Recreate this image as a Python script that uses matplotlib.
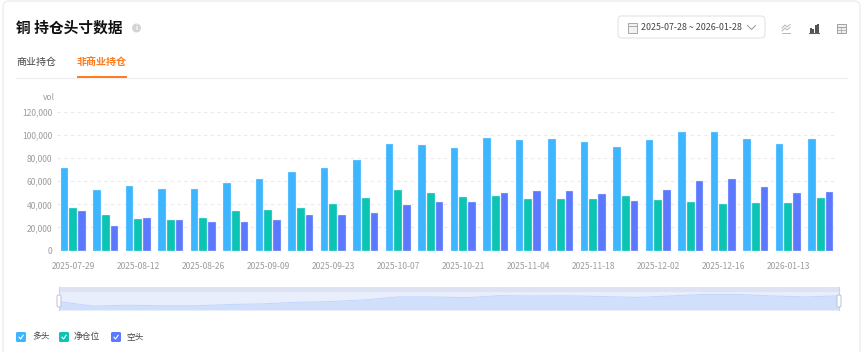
import matplotlib
matplotlib.use('Agg')
import matplotlib.pyplot as plt
from matplotlib.patches import FancyBboxPatch, Rectangle, Circle
import numpy as np

plt.rcParams['font.family'] = ['Noto Sans CJK SC', 'DejaVu Sans']

# Data
dates = ['2025-07-29', '2025-08-05', '2025-08-12', '2025-08-19', '2025-08-26', '2025-09-02',
         '2025-09-09', '2025-09-16', '2025-09-23', '2025-09-30', '2025-10-07', '2025-10-14',
         '2025-10-21', '2025-10-28', '2025-11-04', '2025-11-11', '2025-11-18', '2025-11-25',
         '2025-12-02', '2025-12-09', '2025-12-16', '2025-12-23', '2026-01-13', '2026-01-20']
long_pos = [71600, 52000, 55700, 53400, 53400, 58600, 61800, 68400, 71600, 78800, 92000, 91800,
            88600, 97500, 95800, 96700, 93800, 89800, 95800, 102700, 102700, 96400, 92000, 97000]
net_pos = [37200, 30900, 27400, 26800, 28300, 33800, 35200, 37200, 40700, 45600, 52800, 49400,
           46500, 47000, 44200, 45000, 44700, 47000, 43600, 42100, 40400, 41000, 41300, 45600]
short_pos = [34000, 20800, 28300, 26500, 25100, 24800, 26800, 30600, 30900, 32900, 39000, 42100,
             41800, 50200, 51700, 51700, 48800, 42700, 52200, 60600, 62000, 55100, 50200, 51100]
y_ticks = [0, 20000, 40000, 60000, 80000, 100000, 120000]
legend_names = ['多头', '净仓位', '空头']
colors = ['#3DB5FF', '#0CC4B4', '#5B78FF']

W, H = 865, 352
fig = plt.figure(figsize=(W / 100, H / 100), dpi=100, facecolor='white')


def px_axes(left, top, right, bottom, **kw):
    return fig.add_axes([left / W, 1 - bottom / H, (right - left) / W, (bottom - top) / H], **kw)


# Page layer in pixel coordinates, for the card, header and legend
bg = px_axes(0, 0, W, H)
bg.set_xlim(0, W)
bg.set_ylim(H, 0)
bg.axis('off')
bg.set_zorder(5)
bg.add_patch(FancyBboxPatch((3, 1), 857, 360, boxstyle='round,pad=0,rounding_size=6',
                            fc='none', ec='#ECECF3', lw=1))

bg.text(16, 28, '铜 持仓头寸数据', fontsize=10.6, fontweight='bold', color='#111111', va='center')
bg.add_patch(Circle((136.5, 28), 4.5, fc='#D4D4D4', ec='none'))
bg.text(136.5, 28, 'i', fontsize=5, color='white', ha='center', va='center', fontweight='bold')

bg.text(16, 62, '商业持仓', fontsize=7.2, color='#444444', va='center')
bg.text(77, 62, '非商业持仓', fontsize=7.2, color='#FF7A1A', va='center', fontweight='bold')
bg.plot([16, 847], [78, 78], color='#EFEFF3', lw=0.9)
bg.plot([77, 127], [77, 77], color='#FF7A1A', lw=1.4, solid_capstyle='butt')

# Date picker
bg.add_patch(FancyBboxPatch((618, 16), 147, 22, boxstyle='round,pad=0,rounding_size=4',
                            fc='white', ec='#E6E6EC', lw=0.9))
bg.add_patch(Rectangle((628, 23), 8.5, 9.5, fc='#F2F2F2', ec='#A8A8A8', lw=0.7))
bg.plot([628, 636.5], [26, 26], color='#A8A8A8', lw=0.7)
bg.text(641, 28, '2025-07-28 ~ 2026-01-28', fontsize=6.4, color='#444444', va='center')
bg.plot([747.5, 751.5, 755.5], [25.5, 29.5, 25.5], color='#999999', lw=0.7)

# Toolbar icons
bg.plot([782, 785, 787, 790], [28, 25, 27, 24.5], color='#B5B5B5', lw=0.7)
bg.plot([782, 785, 787, 790], [31, 28, 30, 27.5], color='#B5B5B5', lw=0.7)
bg.plot([782, 790], [32.5, 32.5], color='#B5B5B5', lw=0.7)
for bx, bh in zip([809.5, 812, 814.5, 816.5], [5, 4, 8, 9]):
    bg.add_patch(Rectangle((bx, 32.5 - bh), 2.1, bh, fc='#555555', ec='none'))
bg.plot([809, 818.5], [32.5, 32.5], color='#666666', lw=0.8)
bg.add_patch(Rectangle((837, 24), 8.5, 8.5, fc='#EFEFEF', ec='#A0A0A0', lw=0.7))
bg.plot([837, 845.5], [26.5, 26.5], color='#A0A0A0', lw=0.7)
bg.plot([837, 845.5], [29.5, 29.5], color='#A0A0A0', lw=0.5)
bg.plot([841, 841], [26.5, 32.5], color='#A0A0A0', lw=0.5)

# Main chart
ax = px_axes(57, 112, 837, 250.5)
ax.patch.set_alpha(0)
x = np.arange(len(dates))
bar_w = 0.24
step = 0.268
for i, vals in enumerate([long_pos, net_pos, short_pos]):
    ax.bar(x + (i - 1) * step, vals, bar_w, color=colors[i], edgecolor='#D8EEFF', linewidth=0.25, zorder=3)
ax.set_xlim(-0.5, len(dates) - 0.5)
ax.set_ylim(0, 120000)
ax.set_yticks(y_ticks)
ax.set_yticklabels([f'{v:,}' for v in y_ticks])
ax.set_xticks(x[::2])
ax.set_xticklabels(dates[::2])
ax.tick_params(axis='both', length=0, labelsize=6.1, labelcolor='#9C9C9C')
ax.tick_params(axis='x', pad=8.5)
ax.tick_params(axis='y', pad=3.5)
ax.yaxis.grid(True, color='#EBEBEB', lw=0.8, linestyle=(0, (3, 3)), zorder=0)
ax.set_axisbelow(True)
for s in ax.spines.values():
    s.set_visible(False)
bg.text(55, 98, 'vol', fontsize=6.1, color='#9C9C9C', ha='right', va='center')

# Range slider
sl = px_axes(59, 287, 839, 310)
sl.set_xlim(0, len(dates) - 1)
sl.set_ylim(35000, 135000)
sl.axis('off')
sl.add_patch(Rectangle((0, 35000), len(dates) - 1, 100000, fc='#E8EEFC', ec='none', zorder=1))
sl.add_patch(Rectangle((0, 113000), len(dates) - 1, 22000, fc='#DDE3F3', ec='none', zorder=2))
sl.fill_between(x, long_pos, 35000, color='#D0DFFB', lw=0, zorder=3)
sl.plot(x, long_pos, color='#C2D6FA', lw=0.7, zorder=4)

for hx in (59, 839):
    bg.plot([hx, hx], [287, 310], color='#C9D3EA', lw=0.8, zorder=5)
    bg.add_patch(FancyBboxPatch((hx - 2, 295), 4, 12, boxstyle='round,pad=0,rounding_size=1.5',
                                fc='white', ec='#B9C3D8', lw=0.7, zorder=6))

# Legend
leg_box = [16, 59, 111]
leg_text = [32, 74, 126]
for bx, tx, name, col in zip(leg_box, leg_text, legend_names, colors):
    bg.add_patch(FancyBboxPatch((bx, 332), 10, 10, boxstyle='round,pad=0,rounding_size=1.5', fc=col, ec='none'))
    bg.plot([bx + 3, bx + 4.6, bx + 7.2], [337.2, 339, 335.2], color='white', lw=0.8)
    bg.text(tx, 337, name, fontsize=6.3, color='#444444', va='center')

fig.savefig('out.png', dpi=100)
